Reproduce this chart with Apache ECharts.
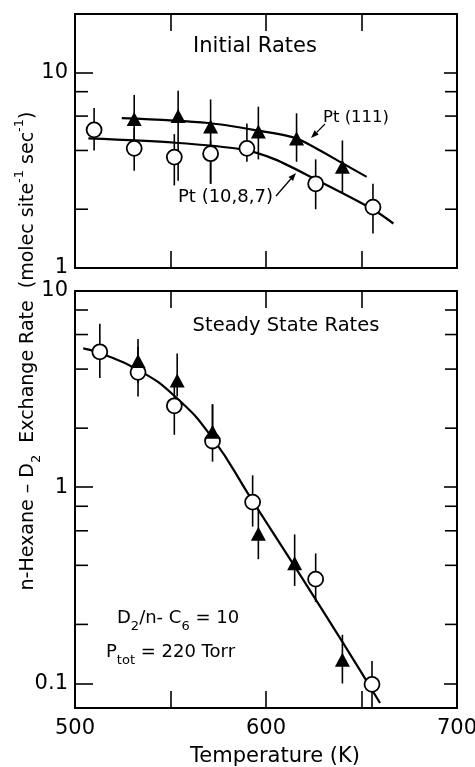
<!DOCTYPE html>
<html>
<head>
<meta charset="utf-8">
<script src="https://cdn.jsdelivr.net/npm/echarts@6/dist/echarts.min.js"></script>
<style>
html, body { margin: 0; padding: 0; background: #fff; }
#chart { width: 475px; height: 767px; }
</style>
</head>
<body>
<div id="chart"></div>
<script>
// top panel: initial rates
var initT111  = [531, 554, 571, 596, 616, 640];
var initV111  = [5.8, 6.0, 5.3, 5.0, 4.6, 3.3];
var initHi111 = [7.7, 8.1, 7.3, 6.7, 6.2, 4.5];
var initLo111 = [4.3, 2.8, 2.7, 3.6, 3.5, 2.4];

var initT1087  = [510, 531, 552, 571, 590, 626, 656];
var initV1087  = [5.1, 4.1, 3.7, 3.85, 4.1, 2.7, 2.05];
var initHi1087 = [6.6, 5.2, 4.85, 4.5, 5.5, 3.6, 2.7];
var initLo1087 = [4.0, 3.15, 2.65, 2.7, 3.5, 2.0, 1.5];

var fitT111 = [524.5, 569.8, 597.7, 615.2, 625.7, 639.6, 652.7];
var fitV111 = [5.86, 5.53, 5.02, 4.64, 4.13, 3.46, 2.93];
var fitT1087 = [507, 552.4, 587.3, 604.7, 625.7, 655.4, 666.7];
var fitV1087 = [4.61, 4.38, 4.05, 3.6, 2.85, 2.01, 1.69];

// bottom panel: steady state rates
var ssTCirc  = [513, 533, 552, 572, 593, 626, 655.5];
var ssVCirc  = [4.9, 3.85, 2.6, 1.72, 0.84, 0.34, 0.099];
var ssHiCirc = [6.8, 5.2, 3.35, 2.65, 1.15, 0.46, 0.13];
var ssLoCirc = [3.6, 2.9, 1.85, 1.35, 0.63, 0.26, 0.075];

var ssTTri  = [533, 553.5, 572, 596, 615, 640];
var ssVTri  = [4.4, 3.5, 1.92, 0.58, 0.41, 0.132];
var ssHiTri = [5.7, 4.8, 2.64, 0.77, 0.575, 0.177];
var ssLoTri = [3.4, 2.9, 1.55, 0.43, 0.314, 0.1];

var ssFitT = [504.3, 512.2, 533.1, 552.4, 571.6, 592.5, 616.1, 640.5, 659.7];
var ssFitV = [5.1, 4.86, 3.96, 2.9, 1.8, 0.866, 0.38, 0.16, 0.0795];

// axis ticks
var xTickLabels = [500, 600, 700];
var topMinor = [2, 4, 6, 8];
var bottomMinor = [0.2, 0.4, 0.6, 0.8, 2, 4, 6, 8];

var FONT = 'DejaVu Sans';

function zip2(a, b){
	var r = [];
	for(var i = 0; i < a.length; i++){ r.push([a[i], b[i]]); }
	return r;
}
function zip3(a, b, c){
	var r = [];
	for(var i = 0; i < a.length; i++){ r.push([a[i], b[i], c[i]]); }
	return r;
}

function errorBars(x, y, data){
	return {
		type: 'custom', xAxisIndex: x, yAxisIndex: y, z: 2, silent: true,
		data: data,
		renderItem: function(params, api){
			var t = api.value(0);
			var a = api.coord([t, api.value(1)]);
			var b = api.coord([t, api.value(2)]);
			return { type: 'line', shape: { x1: a[0], y1: a[1], x2: b[0], y2: b[1] },
				style: { stroke: '#000', lineWidth: 1.6 } };
		}
	};
}

function minorTicks(x, y, vals){
	var d = [];
	for(var i = 0; i < vals.length; i++){ d.push([600, vals[i]]); }
	return {
		type: 'custom', xAxisIndex: x, yAxisIndex: y, z: 5, silent: true,
		data: d,
		renderItem: function(params, api){
			var cs = params.coordSys;
			var p = api.coord([api.value(0), api.value(1)]);
			return { type: 'group', children: [
				{ type: 'line', shape: { x1: cs.x, y1: p[1], x2: cs.x + 13, y2: p[1] }, style: { stroke: '#000', lineWidth: 1.6 } },
				{ type: 'line', shape: { x1: cs.x + cs.width - 12, y1: p[1], x2: cs.x + cs.width, y2: p[1] }, style: { stroke: '#000', lineWidth: 1.6 } }
			] };
		}
	};
}

function fitLine(x, y, data, sm){
	return { type: 'line', xAxisIndex: x, yAxisIndex: y, z: 3, smooth: sm, symbol: 'none', silent: true,
		data: data, lineStyle: { color: '#000', width: 2.2 } };
}
function circles(x, y, data){
	return { type: 'scatter', xAxisIndex: x, yAxisIndex: y, z: 6, symbol: 'circle', symbolSize: 15, silent: true,
		data: data, itemStyle: { color: '#fff', borderColor: '#000', borderWidth: 1.8, opacity: 1 } };
}
function triangles(x, y, data){
	return { type: 'scatter', xAxisIndex: x, yAxisIndex: y, z: 6, symbol: 'triangle', symbolSize: [15, 14], silent: true,
		data: data, itemStyle: { color: '#000', opacity: 1 } };
}

function xAx(grid, pos, labels){
	return {
		type: 'value', gridIndex: grid, position: pos, min: 500, max: 700, interval: 50,
		axisLine: { show: true, lineStyle: { color: '#000', width: 2 } },
		axisTick: { show: true, inside: true, length: 17, lineStyle: { color: '#000', width: 1.6 } },
		splitLine: { show: false },
		axisLabel: { show: labels, color: '#000', fontFamily: FONT, fontSize: 21, margin: 10,
			formatter: function(v){ return xTickLabels.indexOf(v) >= 0 ? String(v) : ''; } }
	};
}
function yAx(grid, pos, mn, mx, labels){
	return {
		type: 'log', logBase: 10, gridIndex: grid, position: pos, min: mn, max: mx,
		axisLine: { show: true, lineStyle: { color: '#000', width: 2 } },
		axisTick: { show: true, inside: true, length: pos == 'left' ? 18 : 13, lineStyle: { color: '#000', width: 1.6 } },
		splitLine: { show: false },
		axisLabel: { show: labels, color: '#000', fontFamily: FONT, fontSize: 21, margin: 7,
			formatter: function(v){
				var l = Math.log(v) / Math.LN10;
				if(Math.abs(l - Math.round(l)) > 1e-6){ return ''; }
				return v >= 1 ? String(Math.round(v)) : '0.1';
			} }
	};
}

function arrow(x1, y1, x2, y2){
	var dx = x2 - x1, dy = y2 - y1;
	var len = Math.sqrt(dx * dx + dy * dy);
	var ux = dx / len, uy = dy / len;
	var bx = x2 - ux * 8, by = y2 - uy * 8;
	return [
		{ type: 'line', shape: { x1: x1, y1: y1, x2: bx, y2: by }, style: { stroke: '#000', lineWidth: 1.3 }, z: 10 },
		{ type: 'polygon', shape: { points: [[x2, y2], [bx - uy * 3, by + ux * 3], [bx + uy * 3, by - ux * 3]] }, style: { fill: '#000' }, z: 10 }
	];
}

function label(x, y, text, size, align, rich){
	return { type: 'text', x: x, y: y, z: 10,
		style: { text: text, fill: '#000', font: size + 'px "' + FONT + '"', align: align || 'left', verticalAlign: 'middle', rich: rich } };
}

var subRich = {
	n: { fontFamily: FONT, fontSize: 18, lineHeight: 30, verticalAlign: 'middle' },
	s: { fontFamily: FONT, fontSize: 13, lineHeight: 30, verticalAlign: 'bottom' }
};

var graphics = [
	label(255, 47, 'Initial Rates', 21, 'center'),
	label(286, 326, 'Steady State Rates', 19.5, 'center'),
	label(323, 118, 'Pt (111)', 16.5, 'left'),
	label(178, 197, 'Pt (10,8,7)', 18, 'left'),
	label(117, 618, '{n|D}{s|2}{n|/n- C}{s|6}{n| = 10}', 18, 'left', subRich),
	label(106, 652, '{n|P}{s|tot}{n| = 220 Torr}', 18, 'left', subRich),
	label(275, 757, 'Temperature (K)', 21, 'center'),
	{ type: 'text', x: 28, y: 351, rotation: Math.PI / 2, z: 10,
		style: { text: '{n|n-Hexane – D}{s|2}{n|  Exchange Rate  (molec site}{p|-1}{n| sec}{p|-1}{n|)}',
			fill: '#000', align: 'center', verticalAlign: 'middle',
			rich: {
				n: { fontFamily: FONT, fontSize: 19, lineHeight: 30, verticalAlign: 'middle' },
				s: { fontFamily: FONT, fontSize: 13, lineHeight: 30, verticalAlign: 'bottom' },
				p: { fontFamily: FONT, fontSize: 13, lineHeight: 30, verticalAlign: 'top' }
			} } }
].concat(arrow(325, 124, 311, 138)).concat(arrow(276, 196, 296, 173));

var chart = echarts.init(document.getElementById('chart'), null, { renderer: 'canvas' });
chart.setOption({
	backgroundColor: '#fff',
	animation: false,
	grid: [
		{ left: 75, top: 14, width: 382, height: 254, containLabel: false, outerBoundsMode: 'none' },
		{ left: 75, top: 291, width: 382, height: 417, containLabel: false, outerBoundsMode: 'none' }
	],
	xAxis: [ xAx(0, 'bottom', false), xAx(0, 'top', false), xAx(1, 'bottom', true), xAx(1, 'top', false) ],
	yAxis: [ yAx(0, 'left', 1, 20, true), yAx(0, 'right', 1, 20, false), yAx(1, 'left', 0.075, 10, true), yAx(1, 'right', 0.075, 10, false) ],
	series: [
		minorTicks(0, 0, topMinor),
		minorTicks(2, 2, bottomMinor),
		errorBars(0, 0, zip3(initT111, initLo111, initHi111)),
		errorBars(0, 0, zip3(initT1087, initLo1087, initHi1087)),
		fitLine(0, 0, zip2(fitT111, fitV111), 0.3),
		fitLine(0, 0, zip2(fitT1087, fitV1087), 0.3),
		circles(0, 0, zip2(initT1087, initV1087)),
		triangles(0, 0, zip2(initT111, initV111)),
		errorBars(2, 2, zip3(ssTCirc, ssLoCirc, ssHiCirc)),
		errorBars(2, 2, zip3(ssTTri, ssLoTri, ssHiTri)),
		fitLine(2, 2, zip2(ssFitT, ssFitV), 0.5),
		circles(2, 2, zip2(ssTCirc, ssVCirc)),
		triangles(2, 2, zip2(ssTTri, ssVTri))
	],
	graphic: graphics
});
</script>
</body>
</html>
